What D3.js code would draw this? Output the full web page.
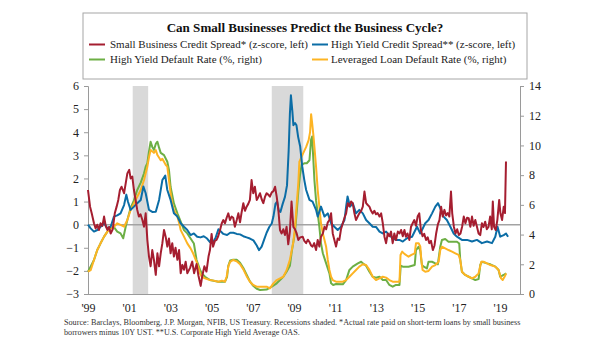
<!DOCTYPE html>
<html>
<head>
<meta charset="utf-8">
<script src="https://cdn.jsdelivr.net/npm/d3@7"></script>
<style>
  html, body { margin: 0; padding: 0; background: #fff; }
  svg { display: block; font-family: "Liberation Serif", "DejaVu Serif", serif; }
</style>
</head>
<body>
<svg id="chart" width="605" height="341"></svg>
<script>
// Small Business Credit Spread* (z-score, left axis) — [decimal year, value]
const smallBizSpread = [
  [1999.00,1.5],[1999.10,0.78],[1999.18,0.49],[1999.29,0.06],[1999.37,-0.16],[1999.45,0.0],
  [1999.53,-0.23],[1999.61,0.06],[1999.70,-0.05],[1999.78,0.35],[1999.86,-0.05],[1999.94,-0.23],
  [2000.02,-0.1],[2000.10,-0.38],[2000.20,-0.2],[2000.30,0.49],[2000.39,0.78],[2000.47,1.07],
  [2000.55,1.5],[2000.63,1.64],[2000.75,1.36],[2000.83,1.79],[2000.91,2.22],[2001.00,2.37],
  [2001.07,2.0],[2001.15,2.08],[2001.23,1.5],[2001.31,1.07],[2001.39,0.64],[2001.47,0.35],
  [2001.55,0.45],[2001.64,0.2],[2001.72,-0.09],[2001.80,0.49],[2001.88,-0.66],[2001.96,-1.38],
  [2002.04,-1.8],[2002.12,-1.1],[2002.20,-1.52],[2002.29,-2.17],[2002.37,-1.24],[2002.45,-1.8],
  [2002.53,-1.24],[2002.61,-0.8],[2002.69,-0.23],[2002.77,-0.52],[2002.85,-0.95],[2002.93,-0.6],
  [2003.01,-1.24],[2003.09,-0.8],[2003.17,-1.38],[2003.25,-1.0],[2003.34,-1.52],[2003.42,-1.1],
  [2003.50,-2.1],[2003.58,-1.74],[2003.66,-1.95],[2003.74,-1.6],[2003.82,-2.1],[2003.95,-1.88],
  [2004.06,-1.6],[2004.15,-2.1],[2004.27,-1.7],[2004.36,-2.2],[2004.47,-2.65],[2004.55,-2.2],
  [2004.65,-1.8],[2004.75,-2.03],[2004.85,-1.38],[2004.92,-1.1],[2005.00,-0.4],[2005.07,-0.95],
  [2005.16,-0.7],[2005.24,-0.66],[2005.32,-0.5],[2005.41,-0.23],[2005.49,0.05],[2005.57,0.2],
  [2005.65,0.06],[2005.73,0.3],[2005.81,0.49],[2005.89,0.2],[2005.97,0.35],[2006.05,0.3],
  [2006.13,-0.09],[2006.22,0.2],[2006.30,0.49],[2006.38,0.1],[2006.46,0.55],[2006.54,0.93],
  [2006.62,0.6],[2006.70,0.78],[2006.78,0.9],[2006.86,1.07],[2006.94,1.93],[2007.02,1.36],
  [2007.10,1.64],[2007.19,1.07],[2007.27,1.2],[2007.35,1.36],[2007.43,1.1],[2007.51,0.93],
  [2007.59,1.2],[2007.67,1.36],[2007.75,1.3],[2007.83,1.21],[2007.92,1.4],[2008.00,1.45],
  [2008.08,1.64],[2008.16,1.21],[2008.24,0.64],[2008.32,-0.23],[2008.40,-0.38],[2008.48,-0.2],
  [2008.56,-0.45],[2008.64,-0.09],[2008.72,-0.85],[2008.80,-0.3],[2008.88,1.0],[2008.97,-0.1],
  [2009.05,-0.2],[2009.13,-0.38],[2009.21,-0.66],[2009.30,-0.55],[2009.42,-0.52],[2009.50,-0.7],
  [2009.59,-0.8],[2009.67,-0.65],[2009.75,-0.75],[2009.83,-0.9],[2009.90,-0.95],[2009.98,-0.8],
  [2010.07,-1.1],[2010.15,-0.66],[2010.23,-0.95],[2010.31,-0.52],[2010.40,-0.38],[2010.48,-0.09],
  [2010.56,-0.2],[2010.64,0.1],[2010.72,0.2],[2010.80,0.49],[2010.88,-0.38],[2010.96,-0.66],
  [2011.04,-0.95],[2011.12,-0.6],[2011.20,-0.66],[2011.28,-0.2],[2011.37,0.06],[2011.45,0.3],
  [2011.53,0.49],[2011.61,0.93],[2011.69,0.8],[2011.77,1.0],[2011.85,0.93],[2011.93,0.5],
  [2012.01,0.2],[2012.09,0.35],[2012.17,0.49],[2012.26,0.6],[2012.34,0.78],[2012.42,1.43],
  [2012.50,0.93],[2012.58,0.85],[2012.66,0.78],[2012.74,0.6],[2012.82,0.49],[2012.90,0.6],
  [2012.98,0.45],[2013.06,0.5],[2013.15,0.35],[2013.23,0.49],[2013.31,0.06],[2013.39,-0.52],
  [2013.47,-0.8],[2013.55,-0.38],[2013.63,-0.5],[2013.71,-0.3],[2013.79,-0.8],[2013.87,-0.38],
  [2013.95,-0.66],[2014.04,-0.3],[2014.12,-0.38],[2014.20,-0.23],[2014.28,-0.5],[2014.36,-0.23],
  [2014.43,-0.52],[2014.51,-0.38],[2014.60,-0.66],[2014.68,-0.09],[2014.76,0.06],[2014.84,0.2],
  [2014.92,-0.05],[2015.00,0.35],[2015.08,0.49],[2015.16,-0.23],[2015.24,-0.5],[2015.32,-0.4],
  [2015.41,-0.66],[2015.49,-0.55],[2015.57,-0.8],[2015.65,-0.7],[2015.74,-1.1],[2015.82,-0.9],
  [2015.90,-0.38],[2015.98,0.0],[2016.06,0.2],[2016.14,0.78],[2016.22,0.35],[2016.30,0.64],
  [2016.38,0.4],[2016.46,0.5],[2016.54,0.35],[2016.62,1.43],[2016.68,0.49],[2016.76,-0.09],
  [2016.84,-0.38],[2016.92,-0.2],[2017.00,-0.45],[2017.08,-0.38],[2017.16,-0.09],[2017.24,0.35],
  [2017.32,0.06],[2017.40,0.3],[2017.48,0.28],[2017.56,-0.09],[2017.64,0.35],[2017.72,-0.05],
  [2017.80,0.2],[2017.88,-0.09],[2017.96,-0.38],[2018.04,-0.45],[2018.12,0.06],[2018.20,-0.1],
  [2018.28,0.13],[2018.36,-0.2],[2018.44,-0.1],[2018.52,0.35],[2018.60,-0.2],[2018.65,1.0],
  [2018.71,-0.09],[2018.79,-0.23],[2018.87,0.2],[2018.96,1.07],[2019.02,0.49],[2019.10,0.2],
  [2019.18,0.78],[2019.24,0.5],[2019.29,2.73]
];

// High Yield Credit Spread** (z-score, left axis)
const hySpread = [
  [1999.00,0.0],[1999.13,-0.16],[1999.29,-0.3],[1999.45,-0.23],[1999.61,-0.09],[1999.78,0.06],
  [1999.94,-0.16],[2000.10,-0.09],[2000.26,0.35],[2000.42,0.4],[2000.58,0.49],[2000.75,0.85],
  [2000.86,1.3],[2000.94,0.99],[2001.07,0.64],[2001.23,0.78],[2001.39,0.93],[2001.56,1.07],
  [2001.69,1.65],[2001.80,1.36],[2001.96,0.64],[2002.12,0.55],[2002.29,0.56],[2002.45,1.07],
  [2002.61,1.93],[2002.75,2.12],[2002.85,1.5],[2003.01,1.07],[2003.17,0.49],[2003.34,0.35],
  [2003.50,0.06],[2003.66,-0.09],[2003.82,-0.23],[2003.98,-0.45],[2004.14,-0.38],[2004.30,-0.52],
  [2004.46,-0.55],[2004.62,-0.5],[2004.78,-0.6],[2004.92,-0.75],[2005.05,-0.8],[2005.20,-0.55],
  [2005.33,-0.2],[2005.45,-0.3],[2005.57,-0.4],[2005.75,-0.45],[2005.90,-0.35],[2006.06,-0.35],
  [2006.22,-0.4],[2006.38,-0.42],[2006.54,-0.5],[2006.70,-0.55],[2006.86,-0.6],[2007.03,-0.68],
  [2007.19,-0.9],[2007.30,-1.1],[2007.43,-0.95],[2007.55,-0.65],[2007.67,-0.35],[2007.80,-0.1],
  [2007.92,0.05],[2008.00,0.35],[2008.10,0.9],[2008.18,1.0],[2008.26,0.6],[2008.34,0.55],
  [2008.45,0.9],[2008.56,1.2],[2008.66,1.7],[2008.74,3.2],[2008.80,4.8],[2008.85,5.6],
  [2008.92,4.9],[2008.97,4.3],[2009.05,4.4],[2009.12,4.3],[2009.20,3.8],[2009.30,3.38],
  [2009.40,2.51],[2009.50,1.93],[2009.59,1.5],[2009.75,1.07],[2009.90,1.0],[2010.07,0.64],
  [2010.15,0.35],[2010.31,0.78],[2010.48,0.35],[2010.64,0.49],[2010.80,0.06],[2010.96,-0.09],
  [2011.12,-0.23],[2011.28,-0.09],[2011.45,0.2],[2011.53,0.78],[2011.60,1.22],[2011.72,0.78],
  [2011.85,0.93],[2012.01,0.49],[2012.17,0.64],[2012.34,0.49],[2012.50,0.2],[2012.66,0.06],
  [2012.82,-0.09],[2012.98,-0.1],[2013.15,-0.3],[2013.31,-0.38],[2013.47,-0.3],[2013.63,-0.45],
  [2013.79,-0.59],[2013.95,-0.66],[2014.12,-0.66],[2014.28,-0.73],[2014.48,-0.59],[2014.73,-0.52],
  [2014.97,-0.09],[2015.13,-0.38],[2015.37,0.06],[2015.53,0.2],[2015.70,0.49],[2015.86,0.78],
  [2015.99,0.93],[2016.10,0.71],[2016.26,0.35],[2016.42,0.2],[2016.59,-0.09],[2016.75,-0.38],
  [2016.91,-0.52],[2017.15,-0.66],[2017.40,-0.66],[2017.64,-0.73],[2017.88,-0.66],[2018.12,-0.8],
  [2018.37,-0.73],[2018.61,-0.8],[2018.77,-0.52],[2018.88,-0.09],[2019.01,-0.52],[2019.18,-0.45],
  [2019.29,-0.38],[2019.39,-0.52]
];

// High Yield Default Rate (%, right axis)
const hyDefault = [
  [1999.00,1.5],[1999.15,1.9],[1999.29,2.29],[1999.45,2.96],[1999.61,3.41],[1999.78,3.86],
  [1999.94,4.2],[2000.10,4.42],[2000.26,4.5],[2000.42,4.2],[2000.58,4.08],[2000.71,3.75],
  [2000.83,4.53],[2000.91,4.98],[2001.07,5.8],[2001.23,6.3],[2001.39,7.0],[2001.56,7.5],
  [2001.72,8.12],[2001.80,8.57],[2001.88,8.8],[2001.96,9.6],[2002.04,10.25],[2002.12,9.9],
  [2002.20,9.7],[2002.29,10.1],[2002.37,10.25],[2002.45,9.85],[2002.53,9.5],[2002.69,9.35],
  [2002.85,8.9],[2002.93,8.35],[2003.01,7.2],[2003.17,6.1],[2003.34,5.43],[2003.50,4.87],
  [2003.66,4.3],[2003.82,4.08],[2003.98,3.74],[2004.14,3.4],[2004.27,2.29],[2004.44,1.62],
  [2004.55,1.35],[2004.68,1.16],[2004.92,0.94],[2005.33,0.83],[2005.65,0.83],[2005.75,1.16],
  [2005.81,1.9],[2005.90,2.25],[2006.05,2.3],[2006.22,2.3],[2006.38,2.1],[2006.54,1.75],
  [2006.70,1.3],[2006.86,0.85],[2007.02,0.55],[2007.19,0.35],[2007.35,0.27],[2007.67,0.3],
  [2007.92,0.49],[2008.16,0.72],[2008.32,0.94],[2008.48,1.16],[2008.64,1.5],[2008.80,1.9],
  [2008.89,2.85],[2009.05,4.19],[2009.13,5.5],[2009.21,6.9],[2009.29,8.0],[2009.37,8.7],
  [2009.50,8.8],[2009.62,8.8],[2009.75,9.0],[2009.83,10.4],[2009.88,10.6],[2009.94,9.0],
  [2009.99,7.67],[2010.07,6.3],[2010.15,5.43],[2010.23,4.53],[2010.31,3.41],[2010.40,2.74],
  [2010.56,2.06],[2010.72,1.39],[2010.80,0.72],[2010.90,0.61],[2011.04,0.67],[2011.37,0.65],
  [2011.53,0.94],[2011.69,1.62],[2011.85,1.84],[2012.10,2.06],[2012.26,2.17],[2012.34,2.06],
  [2012.50,1.9],[2012.66,1.5],[2012.82,1.16],[2012.98,1.1],[2013.15,1.16],[2013.31,0.94],
  [2013.47,0.94],[2013.63,0.61],[2013.79,0.49],[2013.95,0.61],[2014.12,0.61],[2014.18,1.9],
  [2014.28,1.84],[2014.56,1.84],[2014.86,1.95],[2014.92,2.96],[2015.05,3.18],[2015.13,2.9],
  [2015.21,1.95],[2015.30,1.84],[2015.45,1.72],[2015.53,2.17],[2015.70,2.17],[2015.86,2.06],
  [2015.98,2.0],[2016.10,3.18],[2016.18,3.63],[2016.34,3.7],[2016.50,3.52],[2016.67,3.52],
  [2016.91,3.52],[2017.02,3.4],[2017.07,2.29],[2017.15,1.5],[2017.31,1.28],[2017.48,1.16],
  [2017.64,1.05],[2017.80,0.94],[2017.96,1.0],[2018.04,1.95],[2018.12,2.17],[2018.37,2.06],
  [2018.53,2.0],[2018.77,1.84],[2018.93,1.62],[2019.01,1.16],[2019.17,1.28],[2019.30,1.39]
];

// Leveraged Loan Default Rate (%, right axis)
const levLoanDefault = [
  [1999.00,1.5],[1999.13,1.6],[1999.29,2.29],[1999.45,2.96],[1999.61,3.41],[1999.78,3.86],
  [1999.94,4.2],[2000.10,4.42],[2000.26,4.53],[2000.42,4.76],[2000.58,4.65],[2000.75,4.53],
  [2000.91,4.98],[2001.07,5.65],[2001.23,6.1],[2001.39,6.55],[2001.56,7.0],[2001.72,7.67],
  [2001.80,8.12],[2001.88,8.57],[2001.96,9.2],[2002.04,9.69],[2002.12,9.6],[2002.20,9.5],
  [2002.29,9.69],[2002.37,9.35],[2002.53,9.0],[2002.61,9.1],[2002.69,8.9],[2002.77,8.7],
  [2002.85,8.57],[2002.93,7.67],[2003.01,6.78],[2003.09,6.1],[2003.17,5.65],[2003.34,5.2],
  [2003.42,4.8],[2003.50,4.3],[2003.66,3.86],[2003.82,3.41],[2003.98,3.07],[2004.10,2.74],
  [2004.27,2.17],[2004.44,1.39],[2004.52,1.16],[2004.68,1.05],[2004.92,0.94],[2005.10,0.9],
  [2005.33,0.83],[2005.50,0.9],[2005.65,0.83],[2005.73,1.16],[2005.81,1.84],[2005.90,2.17],
  [2006.05,2.29],[2006.22,2.2],[2006.38,2.0],[2006.54,1.66],[2006.70,1.2],[2006.86,0.83],
  [2007.02,0.61],[2007.19,0.49],[2007.43,0.49],[2007.67,0.49],[2007.83,0.38],[2007.99,0.7],
  [2008.16,0.94],[2008.32,1.05],[2008.48,1.16],[2008.64,1.6],[2008.80,2.3],[2008.97,3.52],
  [2009.05,4.5],[2009.13,6.0],[2009.21,7.5],[2009.26,8.9],[2009.42,9.4],[2009.59,9.9],
  [2009.71,10.36],[2009.78,10.9],[2009.83,12.1],[2009.88,11.5],[2009.94,10.7],[2009.99,9.9],
  [2010.07,8.57],[2010.15,7.0],[2010.23,5.88],[2010.31,4.76],[2010.40,4.08],[2010.48,3.63],
  [2010.56,3.18],[2010.64,2.29],[2010.72,1.62],[2010.80,1.16],[2010.88,0.94],[2011.04,0.83],
  [2011.37,0.83],[2011.53,0.94],[2011.69,1.16],[2011.85,1.39],[2012.01,1.62],[2012.17,1.84],
  [2012.34,2.0],[2012.50,1.95],[2012.66,1.62],[2012.82,1.16],[2012.98,0.94],[2013.15,1.05],
  [2013.31,1.16],[2013.47,1.1],[2013.63,0.94],[2013.79,0.83],[2013.95,0.83],[2014.12,0.83],
  [2014.17,2.63],[2014.25,2.85],[2014.36,2.7],[2014.56,2.51],[2014.70,2.63],[2014.86,2.74],
  [2014.92,3.41],[2015.05,3.41],[2015.13,3.2],[2015.18,2.29],[2015.24,1.62],[2015.37,1.5],
  [2015.53,1.55],[2015.70,1.84],[2015.86,1.95],[2016.02,2.17],[2016.10,2.96],[2016.18,3.18],
  [2016.34,3.07],[2016.50,2.96],[2016.67,2.85],[2016.83,2.74],[2016.99,2.63],[2017.07,2.29],
  [2017.15,1.5],[2017.31,1.28],[2017.48,1.16],[2017.64,1.05],[2017.80,1.16],[2017.96,1.39],
  [2018.09,2.17],[2018.20,2.17],[2018.37,2.06],[2018.53,1.95],[2018.77,1.84],[2018.93,1.62],
  [2019.05,1.05],[2019.13,0.94],[2019.22,1.16],[2019.30,1.39]
];

// Shaded recessions (start, end) in decimal years
const recessions = [[2001.17, 2001.92], [2007.92, 2009.45]];

// Axis ticks and labels
const yearTicks = [1999, 2001, 2003, 2005, 2007, 2009, 2011, 2013, 2015, 2017, 2019];
const leftTicks = [-3, -2, -1, 0, 1, 2, 3, 4, 5, 6];
const rightTicks = [0, 2, 4, 6, 8, 10, 12, 14];

const titleText = "Can Small Businesses Predict the Business Cycle?";
const legendItems = [
  { label: "Small Business Credit Spread* (z-score, left)", color: "#A51E30", col: 0, row: 0 },
  { label: "High Yield Credit Spread** (z-score, left)",    color: "#0B6DA6", col: 1, row: 0 },
  { label: "High Yield Default Rate (%, right)",            color: "#6DAF45", col: 0, row: 1 },
  { label: "Leveraged Loan Default Rate (%, right)",        color: "#FDB423", col: 1, row: 1 }
];
const sourceLines = [
  "Source: Barclays, Bloomberg, J.P. Morgan, NFIB, US Treasury. Recessions shaded. *Actual rate paid on short-term loans by small business",
  "borrowers minus 10Y UST. **U.S. Corporate High Yield Average OAS."
];

// ---- layout ----
const plot = { left: 88, right: 520, top: 86, bottom: 294 };
const svg = d3.select("#chart");

const x = d3.scaleLinear().domain([1999.0, 2019.97]).range([plot.left, plot.right]);
const yL = d3.scaleLinear().domain([-3, 6]).range([plot.bottom, plot.top]);
const yR = d3.scaleLinear().domain([0, 14]).range([plot.bottom, plot.top]);

// Scale a text element's font size so it spans the given width
function fitWidth(sel, width, base) {
  sel.attr("font-size", base);
  const w = sel.node().getComputedTextLength();
  sel.attr("font-size", (base * width / w).toFixed(2));
}

// ---- title / legend box ----
svg.append("rect")
  .attr("x", 83).attr("y", 13).attr("width", 444).attr("height", 66)
  .attr("fill", "#fff").attr("stroke", "#a6a6a6").attr("stroke-width", 1);

const title = svg.append("text")
  .attr("x", 305).attr("y", 32).attr("text-anchor", "middle")
  .attr("font-weight", "bold").attr("fill", "#111")
  .text(titleText);
fitWidth(title, 277, 14);

const legendCols = [{ sw: 89, tx: 110, w: 198 }, { sw: 312, tx: 331, w: 182 }];
const legendRows = [48, 63];
const lg = svg.append("g");
legendItems.forEach(d => {
  const c = legendCols[d.col], ry = legendRows[d.row];
  lg.append("line")
    .attr("x1", c.sw).attr("x2", c.sw + 16).attr("y1", ry - 3.5).attr("y2", ry - 3.5)
    .attr("stroke", d.color).attr("stroke-width", 2);
  lg.append("text").attr("x", c.tx).attr("y", ry).attr("fill", "#222")
    .attr("font-size", 11.5).text(d.label);
});
// keep both legend columns at matching font size, set by the first label's width
const firstLabel = lg.selectAll("text").filter((d, i) => i === 0);
fitWidth(firstLabel, 198, 11.5);
const legendSize = firstLabel.attr("font-size");
lg.selectAll("text").attr("font-size", legendSize);

// ---- recession shading ----
svg.append("g").selectAll("rect").data(recessions).join("rect")
  .attr("x", d => x(d[0])).attr("width", d => x(d[1]) - x(d[0]))
  .attr("y", plot.top).attr("height", plot.bottom - plot.top)
  .attr("fill", "#d9d9d9");

// ---- axes ----
const axisColor = "#9a9a9a";
const leftAxis = svg.append("g").attr("transform", `translate(${plot.left},0)`)
  .call(d3.axisLeft(yL).tickValues(leftTicks).tickSize(4).tickPadding(5).tickFormat(d3.format("d")));
const rightAxis = svg.append("g").attr("transform", `translate(${plot.right},0)`)
  .call(d3.axisRight(yR).tickValues(rightTicks).tickSize(4).tickPadding(5).tickFormat(d3.format("d")));
const bottomAxis = svg.append("g").attr("transform", `translate(0,${plot.bottom})`)
  .call(d3.axisBottom(x).tickValues(yearTicks).tickSize(0).tickPadding(9)
    .tickFormat(d => "'" + String(d).slice(2)));

[leftAxis, rightAxis, bottomAxis].forEach(a => {
  a.select(".domain").attr("stroke", axisColor).attr("stroke-width", 1);
  a.selectAll(".tick line").attr("stroke", axisColor);
  a.selectAll(".tick text").attr("font-family", "Liberation Serif, serif")
    .attr("font-size", 12).attr("fill", "#222");
});
bottomAxis.select(".domain").attr("d", `M${plot.left},0.5H${plot.right}`);

// zero line on the left scale
svg.append("line")
  .attr("x1", plot.left).attr("x2", plot.right)
  .attr("y1", yL(0)).attr("y2", yL(0))
  .attr("stroke", "#a3a3a3").attr("stroke-width", 1.5);

// ---- series ----
const lineL = d3.line().x(d => x(d[0])).y(d => yL(d[1]));
const lineR = d3.line().x(d => x(d[0])).y(d => yR(d[1]));

const series = [
  { data: hyDefault,      gen: lineR, color: legendItems[2].color },
  { data: levLoanDefault, gen: lineR, color: legendItems[3].color },
  { data: hySpread,       gen: lineL, color: legendItems[1].color },
  { data: smallBizSpread, gen: lineL, color: legendItems[0].color }
];
svg.append("g").selectAll("path").data(series).join("path")
  .attr("d", d => d.gen(d.data))
  .attr("fill", "none").attr("stroke", d => d.color)
  .attr("stroke-width", 2).attr("stroke-linejoin", "round");

// ---- source note ----
const src = svg.append("g").attr("fill", "#333");
const s1 = src.append("text").attr("x", 64).attr("y", 325).text(sourceLines[0]);
fitWidth(s1, 457, 8);
src.append("text").attr("x", 64).attr("y", 335)
  .attr("font-size", s1.attr("font-size")).text(sourceLines[1]);
</script>
</body>
</html>
